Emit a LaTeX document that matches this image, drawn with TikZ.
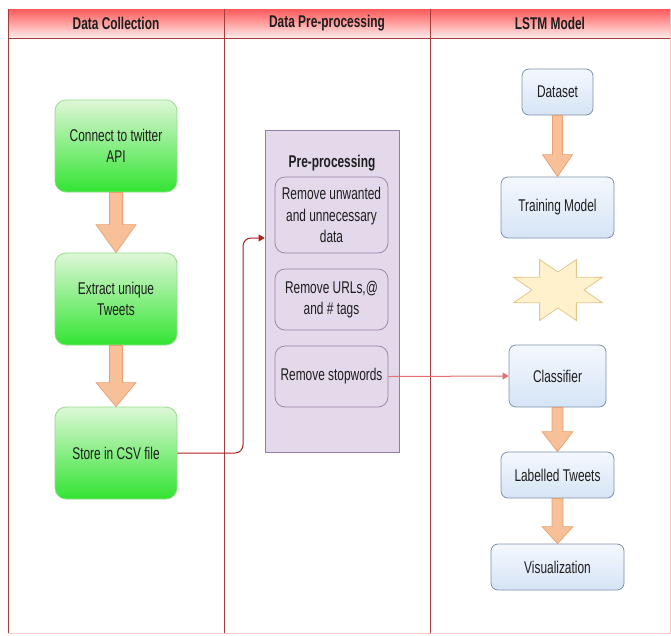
\documentclass[tikz,border=0pt]{standalone}
\usepackage{fontspec}
\setmainfont{Liberation Sans}
\newfontfamily\lab[FakeStretch=0.70]{Liberation Sans}
\usetikzlibrary{arrows.meta,calc}
\definecolor{hdtop}{RGB}{255,90,90}
\definecolor{hdbot}{RGB}{255,236,236}
\definecolor{lanered}{RGB}{165,60,60}
\definecolor{gtop}{RGB}{222,247,215}
\definecolor{gbot}{RGB}{50,228,50}
\definecolor{gdraw}{RGB}{150,220,140}
\definecolor{btop}{RGB}{244,248,253}
\definecolor{bbot}{RGB}{214,228,246}
\definecolor{bdraw}{RGB}{125,145,172}
\definecolor{lav}{RGB}{228,217,234}
\definecolor{lavdraw}{RGB}{150,125,165}
\definecolor{arfill}{RGB}{247,192,152}
\definecolor{ardraw}{RGB}{232,160,112}
\definecolor{stfill}{RGB}{255,241,204}
\definecolor{stdraw}{RGB}{226,200,140}
\definecolor{conA}{RGB}{180,30,30}
\definecolor{conB}{RGB}{228,110,110}
\definecolor{txt}{RGB}{30,30,30}
\tikzset{
  lbl/.style={font=\lab\fontsize{17}{21.5}\selectfont, text=txt, align=center},
  greenbox/.style={lbl, draw=gdraw, line width=0.8pt, rounded corners=11pt, top color=gtop, bottom color=gbot, minimum width=122pt, minimum height=92pt, inner sep=0pt},
  bluebox/.style={lbl, draw=bdraw, line width=0.8pt, rounded corners=7pt, top color=btop, bottom color=bbot, inner sep=0pt},
  subbox/.style={lbl, draw=lavdraw, line width=0.7pt, rounded corners=10pt, fill=lav, minimum width=113pt, inner sep=0pt},
  hdtext/.style={font=\lab\bfseries\fontsize{17}{19}\selectfont, text=txt},
  fatarrow/.style={fill=arfill, draw=ardraw, line width=0.7pt, line join=miter},
  conn/.style={line width=1pt, -{Triangle[length=6pt,width=7pt]}}
}
\newcommand\fatarr[5]{%
  \path[fatarrow] let \p1=(#1.south), \p2=(#2.north) in
    (\x1-#3,\y1) -- (\x1-#3,\y2+#5) -- (\x1-#4,\y2+#5) -- (\x1,\y2)
    -- (\x1+#4,\y2+#5) -- (\x1+#3,\y2+#5) -- (\x1+#3,\y1) -- cycle;}
\begin{document}
\begin{tikzpicture}[x=1pt,y=-1pt]
\useasboundingbox (0,0) rectangle (671,635);
\fill[white] (0,0) rectangle (671,635);
% header
\shade[top color=hdtop, bottom color=hdbot] (8,9) rectangle (671,38);
\node[hdtext] (h1) at (116,23) {Data Collection};
\node[hdtext] (h2) at (327,23) {Data Pre-processing};
\node[hdtext] (h3) at (550,23) {LSTM Model};
% lane lines
\draw[lanered, line width=0.9pt] (8,38) -- (671,38);
\draw[lanered, line width=1pt] (8,9) -- (8,633);
\draw[lanered, line width=0.9pt] (224,9) -- (224,633);
\draw[lanered, line width=0.9pt] (430,9) -- (430,633);
\draw[red!20, line width=0.8pt] (8,633) -- (671,633);
\draw[red!25, line width=0.8pt] (670.5,9) -- (670.5,633);
% lane 1
\node[greenbox] (c1) at (116,146) {Connect to twitter\\API};
\node[greenbox] (c2) at (116,299) {Extract unique\\Tweets};
\node[greenbox] (c3) at (116,453) {Store in CSV file};
\fatarr{c1}{c2}{6.5pt}{20pt}{28pt}
\fatarr{c2}{c3}{6.5pt}{20pt}{24pt}
% lane 2
\node[draw=lavdraw, fill=lav, line width=0.7pt, minimum width=134pt, minimum height=322pt, inner sep=0pt] (pre) at (332,291) {};
\node[font=\lab\bfseries\fontsize{17}{19}\selectfont, text=txt] (pret) at (332,163) {Pre-processing};
\node[subbox, minimum height=76pt] (p1) at (331.5,215) {Remove unwanted\\and unnecessary\\data};
\node[subbox, minimum height=61pt] (p2) at (331.5,299.5) {Remove URLs,@\\and \# tags};
\node[subbox, minimum height=61pt] (p3) at (331.5,376.5) {Remove stopwords};
% lane 3
\node[bluebox, minimum width=71pt, minimum height=46pt] (ds) at (557.5,92) {Dataset};
\node[bluebox, minimum width=113pt, minimum height=61pt] (tm) at (557.5,207.5) {Training Model};
\node[bluebox, minimum width=97pt, minimum height=62pt] (cl) at (557.5,376) {Classifier};
\node[bluebox, minimum width=113pt, minimum height=46pt] (lt) at (557.5,475) {Labelled Tweets};
\node[bluebox, minimum width=133pt, minimum height=46pt] (vz) at (557.5,567) {Visualization};
\fatarr{ds}{tm}{5pt}{15pt}{22pt}
\fatarr{cl}{lt}{5.5pt}{15.5pt}{20pt}
\fatarr{lt}{vz}{5.5pt}{15.5pt}{17pt}
% star
\coordinate (sc) at (558,290);
\path[fill=stfill, draw=stdraw, line width=0.8pt]
  ($(sc)+(26,0)$)
  \foreach \k in {0,...,7} {
    -- ($(sc)+({48*cos(22.5+45*\k)},{-33*sin(22.5+45*\k)})$)
    -- ($(sc)+({26*cos(45+45*\k)},{-18*sin(45+45*\k)})$)
  } -- cycle;
% connectors
\coordinate (k1) at (243,453);
\coordinate (k2) at (243,238);
\draw[conn, conA, rounded corners=8pt] (c3.east) -- (k1) -- (k2) -- (pre.west |- k2);
\draw[conn, conB] (p3.east) -- (cl.west);
\end{tikzpicture}
\end{document}
